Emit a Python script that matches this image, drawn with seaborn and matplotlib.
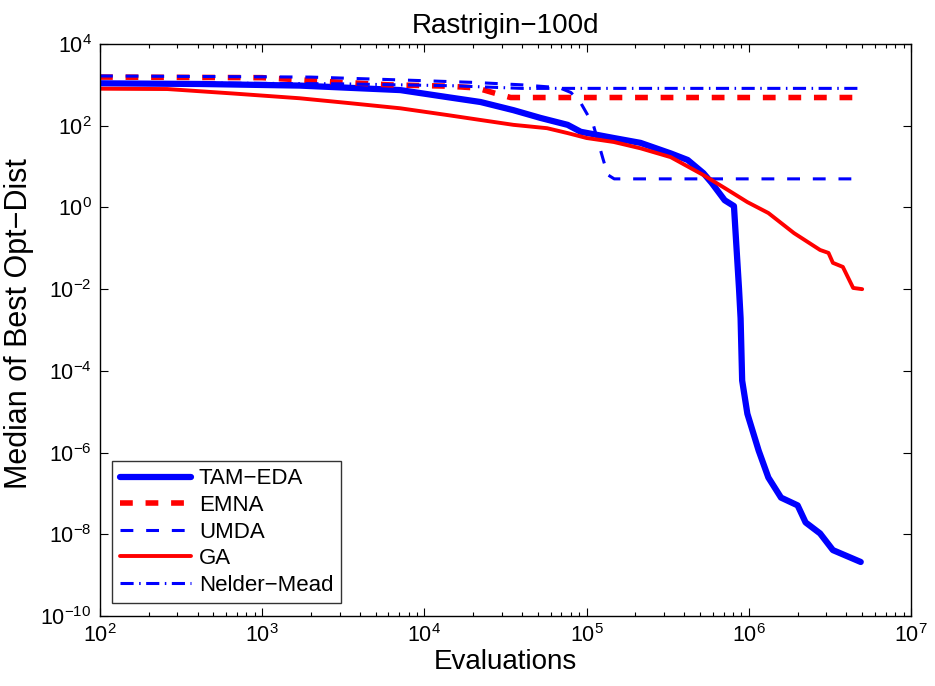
import matplotlib
matplotlib.use("Agg")
import matplotlib.pyplot as plt
import matplotlib.ticker as mticker
import seaborn as sns
import numpy as np

# ---------------- data ----------------
tam_x = [1e2, 4.2e2, 1.7e3, 7.1e3, 1.39e4, 2.22e4, 3.54e4, 5.2e4, 7.64e4, 9.2e4,
         1.47e5, 2.15e5, 3.3e5, 4.2e5, 5.25e5, 5.9e5, 7.1e5, 8.1e5, 8.3e5, 8.7e5,
         8.9e5, 9.1e5, 9.8e5, 1.15e6, 1.32e6, 1.58e6, 2.0e6, 2.24e6, 2.75e6, 3.3e6, 4.9e6]
tam_y = [1090, 1050, 960, 745, 500, 380, 240, 155, 105, 71,
         50, 38, 21, 14.5, 6.9, 4.0, 1.5, 1.08, 0.22, 0.0105,
         0.00195, 5.8e-5, 8.9e-6, 1.12e-6, 2.45e-7, 7.9e-8, 5.1e-8, 1.95e-8, 1.05e-8, 4.1e-9, 2.1e-9]

emna_x = [1e2, 1e3, 2.6e3, 6.1e3, 1.39e4, 2.1e4, 2.7e4, 3.4e4, 4.6e6]
emna_y = [1550, 1500, 1200, 1000, 930, 840, 630, 490, 490]

umda_x = [1e2, 2e3, 8e3, 2e4, 4e4, 6.8e4, 8e4, 9.1e4, 1.1e5, 1.26e5, 1.35e5, 1.48e5, 4.8e6]
umda_y = [1650, 1550, 1300, 1150, 1000, 850, 650, 390, 105, 15.8, 6.3, 5.0, 5.0]

ga_x = [1e2, 2.6e2, 6.6e2, 1.7e3, 3.5e3, 7.1e3, 1.39e4, 2.22e4, 3.54e4, 5.7e4, 7.64e4,
        1e5, 1.47e5, 2.15e5, 3.3e5, 5.25e5, 7.4e5, 9.8e5, 1.32e6, 1.9e6, 2.75e6,
        3.1e6, 3.3e6, 3.8e6, 4.4e6, 5.0e6]
ga_y = [805, 790, 615, 470, 355, 267, 182, 138, 105, 87, 66,
        50, 40, 28, 17, 6.2, 2.7, 1.35, 0.73, 0.235, 0.091,
        0.077, 0.044, 0.035, 0.0107, 0.010]

nm_x = [1e2, 3e3, 1.5e4, 4e4, 5e6]
nm_y = [1150, 1060, 950, 820, 820]

labels = ["TAM\u2212EDA", "EMNA", "UMDA", "GA", "Nelder\u2212Mead"]
y_ticks = [1e-10, 1e-8, 1e-6, 1e-4, 1e-2, 1e0, 1e2, 1e4]
x_ticks = [1e2, 1e3, 1e4, 1e5, 1e6, 1e7]

# ---------------- style ----------------
sns.set_style("ticks")
plt.rcParams["font.family"] = ["Liberation Sans", "DejaVu Sans"]
plt.rcParams["mathtext.fontset"] = "custom"
plt.rcParams["mathtext.rm"] = "Liberation Sans"
plt.rcParams["mathtext.it"] = "Liberation Sans:italic"
plt.rcParams["mathtext.bf"] = "Liberation Sans:bold"
plt.rcParams["xtick.direction"] = "in"
plt.rcParams["ytick.direction"] = "in"
plt.rcParams["xtick.top"] = True
plt.rcParams["ytick.right"] = True
plt.rcParams["axes.edgecolor"] = "black"
plt.rcParams["xtick.color"] = "black"
plt.rcParams["ytick.color"] = "black"
plt.rcParams["text.color"] = "black"
plt.rcParams["axes.labelcolor"] = "black"

fig = plt.figure(figsize=(9.35, 6.86), dpi=100)
ax = fig.add_axes([100 / 935, 1 - 616 / 686, 811 / 935, (616 - 44) / 686])

BLUE = "#0000ff"
RED = "#ff0000"

series = [
    (tam_x, tam_y, BLUE, 4.5, None),
    (emna_x, emna_y, RED, 4.0, (2.3, 2.3)),
    (umda_x, umda_y, BLUE, 2.2, (4.2, 4.2)),
    (ga_x, ga_y, RED, 2.8, None),
    (nm_x, nm_y, BLUE, 2.2, (4.3, 1.8, 0.5, 1.8)),
]

for (xs, ys, col, lw, dash), lab in zip(series, labels):
    sns.lineplot(x=xs, y=ys, ax=ax, color=col, linewidth=lw, label=lab,
                 estimator=None, sort=False)
    line = ax.lines[-1]
    if dash is not None:
        line.set_dashes(dash)
    line.set_solid_joinstyle("round")

ax.set_xscale("log")
ax.set_yscale("log")
ax.set_xlim(1e2, 1e7)
ax.set_ylim(1e-10, 1e4)
ax.set_xticks(x_ticks)
ax.set_yticks(y_ticks)
ax.xaxis.set_minor_locator(mticker.LogLocator(base=10, subs=np.arange(2, 10), numticks=20))
ax.yaxis.set_minor_locator(mticker.NullLocator())
ax.xaxis.set_major_formatter(mticker.LogFormatterMathtext())
ax.yaxis.set_major_formatter(mticker.LogFormatterMathtext())

ax.tick_params(axis="both", which="major", length=6, width=0.8, labelsize=15.5, pad=6)
ax.tick_params(axis="x", which="minor", length=3, width=0.8)
for sp in ax.spines.values():
    sp.set_linewidth(1.0)
    sp.set_color("black")

ax.set_title("Rastrigin\u2212100d", fontsize=20, pad=8)
ax.set_xlabel("Evaluations", fontsize=20, labelpad=1)
ax.set_ylabel("Median of Best Opt\u2212Dist", fontsize=22)
ax.yaxis.set_label_coords(-0.081, 0.512)

leg = ax.legend(loc="lower left", bbox_to_anchor=(0.015, 0.022), borderaxespad=0,
                fontsize=16, handlelength=3.2, handletextpad=0.35, labelspacing=0.25,
                frameon=True, fancybox=False, borderpad=0.35)
leg.get_frame().set_edgecolor("black")
leg.get_frame().set_linewidth(1.0)

fig.savefig("out.png", dpi=100)
